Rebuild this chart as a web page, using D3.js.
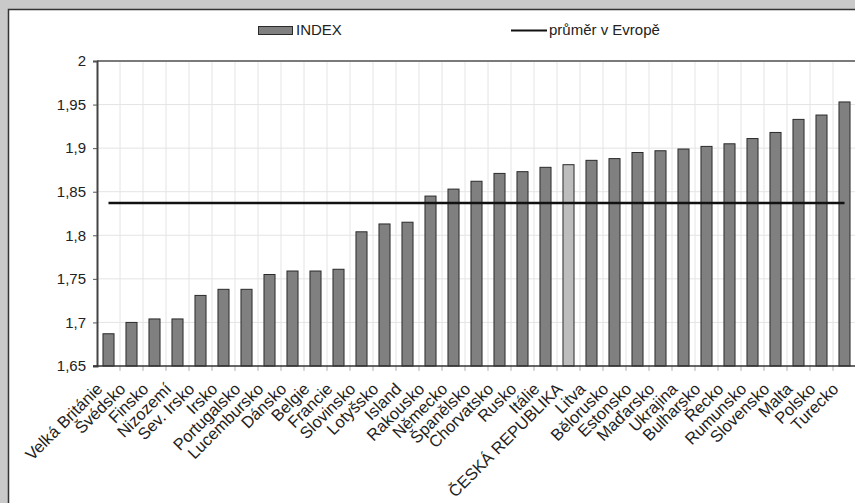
<!DOCTYPE html>
<html><head><meta charset="utf-8">
<script src="https://cdn.jsdelivr.net/npm/d3@7"></script>
<style>
html,body{margin:0;padding:0;background:#c9c9c9;}
svg{display:block;font-family:"Liberation Sans",Arial,sans-serif;}
</style></head>
<body><svg id="c" width="855" height="503"></svg>
<script>
const countries = ["Velká Británie","Švédsko","Finsko","Nizozemí","Sev. Irsko","Irsko","Portugalsko","Lucembursko","Dánsko","Belgie","Francie","Slovinsko","Lotyšsko","Island","Rakousko","Německo","Španělsko","Chorvatsko","Rusko","Itálie","ČESKÁ REPUBLIKA","Litva","Bělorusko","Estonsko","Maďarsko","Ukrajina","Bulharsko","Řecko","Rumunsko","Slovensko","Malta","Polsko","Turecko"];
const indexValues = [1.687,1.700,1.704,1.704,1.731,1.738,1.738,1.755,1.759,1.759,1.761,1.804,1.813,1.815,1.845,1.853,1.862,1.871,1.873,1.878,1.881,1.886,1.888,1.895,1.897,1.899,1.902,1.905,1.911,1.918,1.933,1.938,1.953];
const europeAverage = 1.837;
const yTicks = [1.65,1.7,1.75,1.8,1.85,1.9,1.95,2];
const highlight = "ČESKÁ REPUBLIKA";
const seriesNames = ["INDEX","průměr v Evropě"];

const svg = d3.select("#c");
// panel
svg.append("rect").attr("x",8.5).attr("y",9.5).attr("width",900).attr("height",600)
  .attr("fill","#fff").attr("stroke","#333").attr("stroke-width",1.5);

const L=97, R=856, T=61, B=366;
const x = d3.scaleBand().domain(countries).range([L,R]).paddingInner(0.52).paddingOuter(0.26);
const y = d3.scaleLinear().domain([1.65,2]).range([B,T]);
const step = x.step();

const g = svg.append("g");
// horizontal grid
g.selectAll(".hg").data(yTicks.slice(1,-1)).enter().append("line")
  .attr("x1",L).attr("x2",R).attr("y1",d=>y(d)).attr("y2",d=>y(d))
  .attr("stroke","#e4e4e4").attr("stroke-width",1);
// vertical grid at band boundaries
const bounds = countries.slice(0,-1).map(c=>x(c)+x.bandwidth()/2+step/2);
g.selectAll(".vg").data(bounds).enter().append("line")
  .attr("x1",d=>d).attr("x2",d=>d).attr("y1",T).attr("y2",B+4)
  .attr("stroke","#e4e4e4").attr("stroke-width",1);
// minor ticks below axis
g.selectAll(".bt").data(bounds).enter().append("line")
  .attr("x1",d=>d).attr("x2",d=>d).attr("y1",B).attr("y2",B+5)
  .attr("stroke","#bbb").attr("stroke-width",1);

// top border of plot
g.append("line").attr("x1",L).attr("x2",R).attr("y1",T).attr("y2",T)
  .attr("stroke","#7a7a7a").attr("stroke-width",2);

// bars
g.selectAll(".bar").data(countries).enter().append("rect")
  .attr("x",d=>x(d)).attr("width",x.bandwidth())
  .attr("y",(d,i)=>y(indexValues[i])).attr("height",(d,i)=>B-y(indexValues[i]))
  .attr("fill",d=>d===highlight?"#bdbdbd":"#808080")
  .attr("stroke","#2a2a2a").attr("stroke-width",1);

// average line
g.append("line")
  .attr("x1",x(countries[0])+x.bandwidth()/2).attr("x2",x(countries[countries.length-1])+x.bandwidth()/2)
  .attr("y1",y(europeAverage)).attr("y2",y(europeAverage))
  .attr("stroke","#111").attr("stroke-width",2.5);

// y axis
const yAxis = d3.axisLeft(y).tickValues(yTicks).tickSize(4).tickPadding(7)
  .tickFormat(d=>d3.format(".2~f")(d).replace(".",","));
const ya = svg.append("g").attr("transform",`translate(${L},0)`).call(yAxis);
ya.select(".domain").attr("stroke","#444").attr("stroke-width",2);
ya.selectAll(".tick line").attr("stroke","#555");
ya.selectAll("text").attr("font-size",15).attr("fill","#222").attr("font-family","Liberation Sans, Arial, sans-serif");

// x axis baseline
svg.append("line").attr("x1",L-4).attr("x2",R).attr("y1",B).attr("y2",B)
  .attr("stroke","#333").attr("stroke-width",1.5);

// x labels
svg.selectAll(".xl").data(countries).enter().append("text")
  .attr("transform",d=>`translate(${x(d)+x.bandwidth()/2-5},${B+24}) rotate(-45)`)
  .attr("text-anchor","end").attr("font-size",16.5).attr("fill","#222")
  .text(d=>d);

// legend
const lg = svg.append("g");
lg.append("rect").attr("x",258.5).attr("y",26.5).attr("width",34).attr("height",8)
  .attr("fill","#808080").attr("stroke","#2a2a2a");
lg.append("text").attr("x",296).attr("y",35).attr("font-size",15).attr("fill","#222").text(seriesNames[0]);
lg.append("line").attr("x1",511).attr("x2",547).attr("y1",30.5).attr("y2",30.5)
  .attr("stroke","#111").attr("stroke-width",2);
lg.append("text").attr("x",549).attr("y",35).attr("font-size",15).attr("fill","#222").text(seriesNames[1]);
</script></body></html>
